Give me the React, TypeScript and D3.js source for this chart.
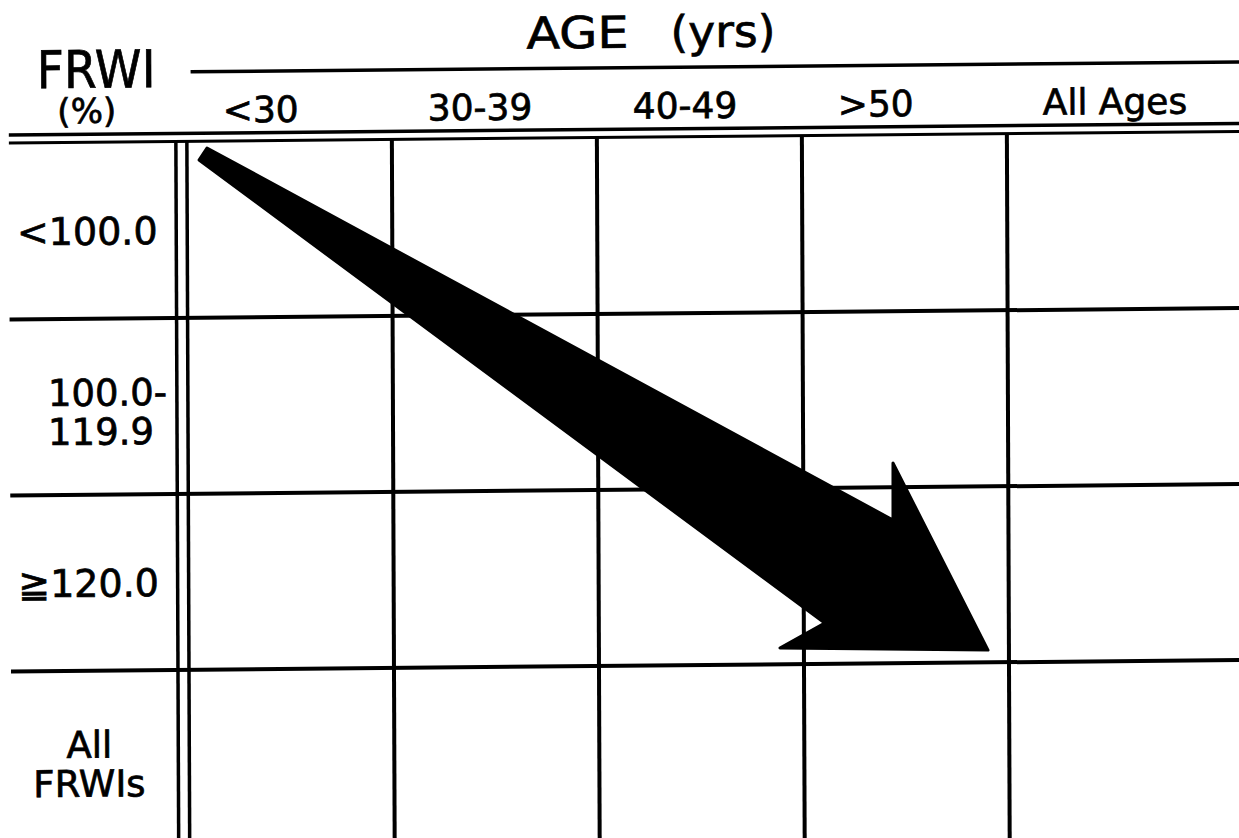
import * as d3 from "d3";

const ageGroups = ["<30", "30-39", "40-49", ">50", "All Ages"];
const frwiGroups = ["<100.0", "100.0-119.9", "≧120.0", "All FRWIs"];
const frwiLines = [["<100.0"], ["100.0-", "119.9"], ["≧120.0"], ["All", "FRWIs"]];

// arrow outline in grid units: column index, row index
const arrowCol = [0.098, 3.437, 3.438, 3.898, 2.883, 3.102, 0.059];
const arrowRow = [0.036, 2.186, 1.862, 2.93, 2.907, 2.768, 0.104];

const width = 1239;
const height = 838;
const font = "'DejaVu Sans', sans-serif";

export default function App() {
  const x = d3.scaleLinear().domain([0, ageGroups.length]).range([188, 1213]);
  const y = d3.scaleLinear().domain([0, frwiGroups.length]).range([138, 842]);

  const arrow = d3
    .line<number>()
    .x((_, i) => x(arrowCol[i]))
    .y((_, i) => y(arrowRow[i]))
    .curve(d3.curveLinearClosed)(arrowCol);

  const rowLines = d3.range(1, frwiGroups.length).map((i) => y(i));
  const colLines = d3.range(1, ageGroups.length).map((i) => x(i));

  return (
    <svg
      width={width}
      height={height}
      style={{ position: "absolute", left: 0, top: 0, background: "#fff" }}
    >
      {/* scanned page is a little skewed */}
      <g transform="matrix(1,-0.0093,0.004,1,-1.68,5.58)">
        {/* header, hand lettering is a bit heavier than the font */}
        <g fontFamily={font} fill="#000" stroke="#000" strokeWidth={0.7}>
          <text x={38} y={83} fontSize={52} textLength={119} lengthAdjust="spacingAndGlyphs">
            FRWI
          </text>
          <text x={88} y={118} fontSize={34} textAnchor="middle">
            (%)
          </text>
          <text x={528} y={48} fontSize={44} textLength={102} lengthAdjust="spacingAndGlyphs">
            AGE
          </text>
          <text x={672} y={48} fontSize={44} textLength={105} lengthAdjust="spacingAndGlyphs">
            (yrs)
          </text>

          {ageGroups.map((g, i) => (
            <text key={g} x={x(i) + 36} y={119} fontSize={36}>
              {g}
            </text>
          ))}

          {/* row labels */}
          {frwiLines.map((lines, i) => {
            const cy = y(i + 0.5);
            if (lines.length === 1) {
              return (
                <text key={i} x={88} y={cy + 14} fontSize={38} textAnchor="middle">
                  {lines[0]}
                </text>
              );
            }
            const left = i === 1;
            return (
              <g key={i}>
                {lines.map((t, j) => (
                  <text
                    key={t}
                    x={left ? 48 : 88}
                    y={cy - 1 + j * 39}
                    fontSize={37}
                    textAnchor={left ? "start" : "middle"}
                  >
                    {t}
                  </text>
                ))}
              </g>
            );
          })}
        </g>

        <line x1={192} x2={width + 10} y1={68} y2={68} stroke="#000" strokeWidth={3.5} />
        <line x1={10} x2={width + 10} y1={129.5} y2={129.5} stroke="#000" strokeWidth={3.5} />
        <line x1={10} x2={width + 10} y1={137.5} y2={137.5} stroke="#000" strokeWidth={3} />

        {/* grid */}
        {rowLines.map((v) => (
          <line key={v} x1={10} x2={width + 10} y1={v} y2={v} stroke="#000" strokeWidth={4} />
        ))}
        <line x1={x(0) - 11} x2={x(0) - 11} y1={y(0)} y2={height + 10} stroke="#000" strokeWidth={3.5} />
        <line x1={x(0)} x2={x(0)} y1={y(0)} y2={height + 10} stroke="#000" strokeWidth={3.5} />
        {colLines.map((v) => (
          <line key={v} x1={v} x2={v} y1={y(0)} y2={height + 10} stroke="#000" strokeWidth={4} />
        ))}

        <path d={arrow ?? ""} fill="#000" stroke="#000" strokeWidth={3} strokeLinejoin="round" />
      </g>
    </svg>
  );
}
